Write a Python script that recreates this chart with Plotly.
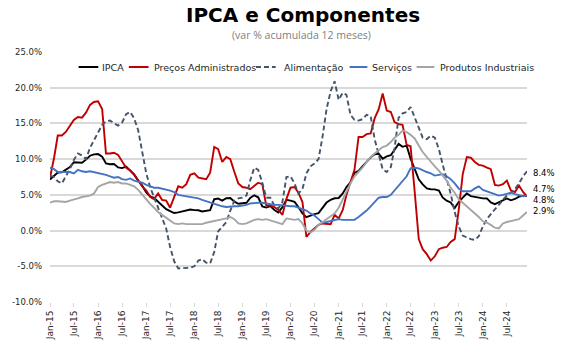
import pandas as pd
import plotly.graph_objects as go

# ---------------- data (12-month accumulated % change) ----------------
months = pd.date_range("2015-01-01", "2024-12-01", freq="MS")

ipca = [7.14, 7.70, 8.13, 8.17, 8.47, 8.89, 9.56, 9.53, 9.49, 9.93, 10.48, 10.67,
        10.71, 10.36, 9.39, 9.28, 9.32, 8.84, 8.74, 8.97, 8.48, 7.87, 6.99, 6.29,
        5.35, 4.76, 4.57, 4.08, 3.60, 3.00, 2.71, 2.46, 2.54, 2.70, 2.80, 2.95,
        2.86, 2.84, 2.68, 2.76, 2.86, 4.39, 4.48, 4.19, 4.53, 4.56, 4.05, 3.75,
        3.78, 3.89, 4.58, 4.94, 4.66, 3.37, 3.22, 3.43, 2.89, 2.54, 3.27, 4.31,
        4.19, 4.01, 3.30, 2.40, 1.88, 2.13, 2.31, 2.44, 3.14, 3.92, 4.31, 4.52,
        4.56, 5.20, 6.10, 6.76, 8.06, 8.35, 8.99, 9.68, 10.25, 10.67, 10.74, 10.06,
        10.38, 10.54, 11.30, 12.13, 11.73, 11.89, 10.07, 8.73, 7.17, 6.47, 5.90, 5.79,
        5.77, 5.60, 4.65, 4.18, 3.94, 3.16, 3.99, 4.61, 5.19, 4.82, 4.68, 4.62,
        4.51, 4.50, 3.93, 3.69, 3.93, 4.23, 4.50, 4.24, 4.42, 4.76, 4.87, 4.83]

administrados = [7.4, 10.2, 13.3, 13.3, 13.8, 14.6, 15.5, 15.9, 15.8, 16.5, 17.6, 18.0,
                 18.1, 17.0, 10.8, 10.8, 10.9, 10.6, 9.8, 8.8, 8.4, 7.8, 7.0, 6.2,
                 5.6, 4.7, 4.4, 5.2, 4.3, 4.2, 3.2, 4.6, 6.2, 6.0, 6.5, 7.8,
                 8.0, 7.4, 7.3, 7.2, 8.1, 11.7, 11.4, 9.6, 10.3, 10.0, 8.2, 6.6,
                 6.1, 6.0, 5.8, 6.3, 6.7, 6.5, 3.5, 3.5, 3.3, 2.9, 2.2, 4.4,
                 6.0, 6.1, 5.3, 4.0, -0.9, -0.2, 0.3, 0.8, 1.0, 0.95, 0.9, 2.2,
                 1.7, 2.9, 5.0, 6.8, 8.5, 13.1, 13.1, 13.5, 13.6, 15.7, 17.0, 19.2,
                 16.8, 16.6, 15.2, 14.9, 14.8, 12.0, 11.8, 5.5, -1.2, -2.6, -3.3, -4.2,
                 -3.6, -2.6, -2.4, -2.3, -1.6, -1.2, 2.8, 7.9, 10.3, 10.2, 9.6, 9.2,
                 9.1, 8.8, 8.6, 6.4, 6.3, 6.5, 7.0, 5.6, 5.4, 6.3, 5.4, 4.8]

alimentacao = [7.7, 7.5, 6.9, 6.6, 7.6, 8.6, 9.9, 10.8, 10.5, 10.0, 11.6, 12.7,
               13.8, 14.8, 15.3, 15.4, 15.0, 14.7, 15.1, 16.3, 16.6, 15.7, 14.0, 11.0,
               8.0, 6.0, 4.6, 3.2, 1.7, 0.3, -2.3, -4.3, -5.3, -5.3, -5.3, -5.2,
               -5.0, -4.2, -4.0, -4.5, -4.6, -3.0, -0.1, 0.5, 1.2, 2.8, 4.2, 4.5,
               4.6, 4.9, 7.0, 8.8, 8.5, 6.7, 4.6, 4.6, 3.5, 3.1, 4.0, 7.5,
               7.6, 6.6, 5.2, 5.8, 8.0, 9.0, 9.4, 10.0, 13.2, 17.0, 19.5, 20.9,
               18.3, 19.3, 19.0, 16.2, 15.5, 15.4, 15.6, 16.2, 16.0, 12.8, 10.6, 8.6,
               8.2, 8.9, 11.5, 15.8, 16.4, 16.6, 17.3, 15.8, 14.2, 13.0, 12.8, 13.3,
               13.0, 11.4, 9.3, 7.3, 5.2, 2.6, 0.6, -0.7, -1.0, -1.2, -1.3, -0.8,
               0.6, 1.6, 2.3, 2.9, 3.6, 4.3, 4.9, 5.3, 5.8, 6.6, 7.6, 8.3]

servicos = [8.8, 8.6, 8.2, 8.2, 8.3, 8.2, 8.0, 8.5, 8.3, 8.2, 8.3, 8.2,
            8.0, 7.9, 7.8, 7.6, 7.4, 7.5, 7.2, 7.1, 7.3, 7.0, 6.9, 6.7,
            6.4, 6.2, 6.0, 6.0, 5.9, 5.8, 5.6, 5.4, 5.0, 4.9, 4.8, 4.7,
            4.6, 4.5, 4.3, 4.1, 3.9, 3.7, 3.5, 3.4, 3.3, 3.4, 3.4, 3.4,
            3.5, 3.6, 3.8, 3.9, 3.9, 3.9, 3.8, 3.7, 3.6, 3.6, 3.5, 3.5,
            3.4, 3.4, 3.2, 3.0, 2.8, 2.4, 2.1, 1.6, 1.1, 1.2, 1.3, 1.5,
            1.6, 1.5, 1.5, 1.4, 1.5, 1.9, 2.3, 2.8, 3.4, 4.0, 4.6, 4.7,
            4.7, 5.0, 5.6, 6.2, 6.9, 7.6, 8.7, 8.8, 8.7, 8.4, 8.2, 8.0,
            7.7, 7.8, 7.9, 7.6, 7.2, 6.6, 5.9, 5.5, 5.5, 5.5, 5.9, 6.2,
            5.7, 5.5, 5.4, 5.1, 4.9, 5.0, 5.2, 5.3, 5.1, 4.9, 4.8, 4.9]

industriais = [3.9, 4.1, 4.1, 4.1, 4.0, 4.2, 4.4, 4.5, 4.7, 4.8, 4.9, 5.2,
               6.1, 6.4, 6.6, 6.8, 6.7, 6.8, 6.6, 6.6, 6.4, 6.2, 5.7, 5.0,
               4.3, 3.7, 3.2, 2.6, 2.2, 1.8, 1.4, 1.0, 0.9, 1.0, 0.9, 0.9,
               1.0, 1.0, 0.9, 1.1, 1.2, 1.3, 1.5, 1.6, 1.7, 1.9, 1.6, 1.0,
               0.9, 1.0, 1.2, 1.5, 1.6, 1.5, 1.6, 1.4, 1.3, 1.1, 0.9, 1.7,
               1.6, 1.5, 1.6, 1.0, 0.0, -0.3, 0.1, 0.8, 1.2, 1.6, 1.9, 2.4,
               3.2, 4.4, 5.6, 6.6, 7.6, 8.2, 8.8, 9.6, 10.3, 10.8, 11.3, 11.7,
               11.9, 12.4, 13.0, 13.4, 14.0, 13.8, 13.4, 12.9, 11.9, 11.0, 10.3, 9.6,
               9.0, 8.4, 7.8, 7.0, 6.0, 5.3, 4.4, 3.9, 3.5, 3.0, 2.5, 1.9,
               1.3, 1.1, 0.8, 0.4, 0.3, 1.0, 1.2, 1.3, 1.4, 1.6, 2.1, 2.6]

series_names = ["IPCA", "Preços Administrados", "Alimentação", "Serviços", "Produtos Industriais"]
series_values = [ipca, administrados, alimentacao, servicos, industriais]

x_tick_labels = ["Jan-15", "Jul-15", "Jan-16", "Jul-16", "Jan-17", "Jul-17", "Jan-18", "Jul-18",
                 "Jan-19", "Jul-19", "Jan-20", "Jul-20", "Jan-21", "Jul-21", "Jan-22", "Jul-22",
                 "Jan-23", "Jul-23", "Jan-24", "Jul-24"]
y_ticks = [-10, -5, 0, 5, 10, 15, 20, 25]

end_labels = ["8.4%", "4.7%", "4.8%", "2.9%"]

# ---------------- styles ----------------
colors = ["#000000", "#C00000", "#44546A", "#4472C4", "#A5A5A5"]
dashes = ["solid", "solid", "5px,3px", "solid", "solid"]

W, H = 584, 363
L, R, T, B = 43, 57, 52, 61
PW, PH = W - L - R, H - T - B


def px_to_paper_x(px):
    return (px - L) / PW


def px_to_paper_y(py):
    return (H - B - py) / PH


fig = go.Figure()
for name, vals, c, d in zip(series_names, series_values, colors, dashes):
    fig.add_trace(go.Scatter(x=months, y=vals, mode="lines", name=name,
                             line=dict(color=c, width=1.9, dash=d),
                             showlegend=False))

tick_dates = [pd.to_datetime(t, format="%b-%y") for t in x_tick_labels]

fig.update_layout(
    width=W, height=H,
    margin=dict(l=L, r=R, t=T, b=B, pad=0),
    plot_bgcolor="white", paper_bgcolor="white",
    font=dict(family="DejaVu Sans", size=9, color="#262626"),
    xaxis=dict(range=[months[0], months[-1]], tickmode="array",
               tickvals=tick_dates, ticktext=x_tick_labels, tickangle=-90,
               showgrid=False, zeroline=False, showline=False,
               ticks="outside", ticklen=4, tickcolor="#D9D9D9", tickwidth=1,
               tickfont=dict(family="DejaVu Sans", size=9, color="#262626")),
    yaxis=dict(range=[-10, 25], tickmode="array", tickvals=y_ticks,
               ticktext=[f"{v:.1f}%" for v in y_ticks],
               showgrid=True, gridcolor="#D9D9D9", gridwidth=1.5,
               zeroline=False, showline=False, ticks="", ticklabelstandoff=7,
               tickfont=dict(family="DejaVu Sans", size=8.5, color="#262626")),
)

annotations = []
# title and subtitle
annotations.append(dict(text="<b>IPCA e Componentes</b>", xref="paper", yref="paper",
                        x=px_to_paper_x(300), y=px_to_paper_y(15), xanchor="center", yanchor="middle",
                        showarrow=False, font=dict(family="DejaVu Sans", size=20, color="#000000")))
annotations.append(dict(text="(var % acumulada 12 meses)", xref="paper", yref="paper",
                        x=px_to_paper_x(298.5), y=px_to_paper_y(35), xanchor="center", yanchor="middle",
                        showarrow=False, font=dict(family="Open Sans", size=10.5, color="#808080")))

# manual legend (sample line + text)
legend_pos = [(72, 92, 94), (123, 143, 146), (252, 272, 278), (347, 365, 368), (415, 433, 437)]
legend_y = 67
shapes = []
for (x0, x1, xt), name, c, d in zip(legend_pos, series_names, colors, dashes):
    shapes.append(dict(type="line", xref="paper", yref="paper",
                       x0=px_to_paper_x(x0), x1=px_to_paper_x(x1),
                       y0=px_to_paper_y(legend_y), y1=px_to_paper_y(legend_y),
                       line=dict(color=c, width=2, dash=d)))
    annotations.append(dict(text=name, xref="paper", yref="paper",
                            x=px_to_paper_x(xt), y=px_to_paper_y(legend_y),
                            xanchor="left", yanchor="middle", showarrow=False,
                            font=dict(family="DejaVu Sans", size=9.5, color="#262626")))

# end labels
end_label_y = [8.1, 5.85, 4.3, 2.75]
for txt, yv in zip(end_labels, end_label_y):
    annotations.append(dict(text=txt, x=months[-1], y=yv, xref="x", yref="y",
                            xanchor="left", yanchor="middle", xshift=4, showarrow=False,
                            font=dict(family="DejaVu Sans", size=8.5, color="#000000")))

fig.update_layout(annotations=annotations, shapes=shapes)
# remove the default 8px page margin so the figure fills the window exactly
fig.write_html("out.html", config={"displayModeBar": False},
               post_script="document.body.style.margin='0';")
